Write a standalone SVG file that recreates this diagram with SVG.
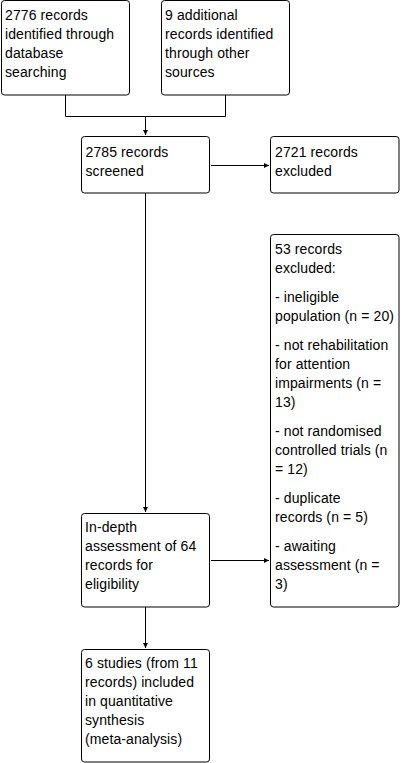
<svg xmlns="http://www.w3.org/2000/svg" width="402" height="763" viewBox="0 0 402 763">
<style>
rect.box{fill:#fff;stroke:#000;stroke-width:1}
text{font-family:"Liberation Sans",Arial,sans-serif;font-size:14px;letter-spacing:0.1px;fill:#000}
.c{fill:none;stroke:#000;stroke-width:1}
</style>
<defs>
<marker id="ah" markerWidth="6" markerHeight="6" refX="5" refY="3" orient="auto" markerUnits="userSpaceOnUse">
<path d="M0,0.5 L5,3 L0,5.5 Z" fill="#000"/>
</marker>
</defs>
<rect width="402" height="763" fill="#fff"/>
<g id="connectors">
<path class="c" d="M65.5,95 V116.5 H225.5 V95"/>
<path class="c" d="M145.5,116.5 V135" marker-end="url(#ah)"/>
<path class="c" d="M211,165.5 H269" marker-end="url(#ah)"/>
<path class="c" d="M145.5,193 V512" marker-end="url(#ah)"/>
<path class="c" d="M211,560.5 H269" marker-end="url(#ah)"/>
<path class="c" d="M145.5,607 V648" marker-end="url(#ah)"/>
</g>
<g id="n1">
<rect class="box" x="1.5" y="0.5" width="128" height="94.5" rx="3"/>
<text x="5" y="20">2776 records</text>
<text x="5" y="39">identified through</text>
<text x="5" y="58">database</text>
<text x="5" y="77">searching</text>
</g>
<g id="n2">
<rect class="box" x="161.5" y="0.5" width="128" height="94.5" rx="3"/>
<text x="165" y="20">9 additional</text>
<text x="165" y="39">records identified</text>
<text x="165" y="58">through other</text>
<text x="165" y="77">sources</text>
</g>
<g id="n3">
<rect class="box" x="81.5" y="136.5" width="128" height="56.5" rx="3"/>
<text x="85.5" y="157">2785 records</text>
<text x="85.5" y="176">screened</text>
</g>
<g id="n4">
<rect class="box" x="270.5" y="136.5" width="128.5" height="56.5" rx="3"/>
<text x="275" y="157">2721 records</text>
<text x="275" y="176">excluded</text>
</g>
<g id="n5">
<rect class="box" x="270.5" y="234.5" width="128.5" height="372.5" rx="3"/>
<text x="275" y="254">53 records</text>
<text x="275" y="273">excluded:</text>
<text x="275" y="302">- ineligible</text>
<text x="275" y="321">population (n = 20)</text>
<text x="275" y="350">- not rehabilitation</text>
<text x="275" y="369">for attention</text>
<text x="275" y="388">impairments (n =</text>
<text x="275" y="407">13)</text>
<text x="275" y="436">- not randomised</text>
<text x="275" y="455">controlled trials (n</text>
<text x="275" y="474">= 12)</text>
<text x="275" y="503">- duplicate</text>
<text x="275" y="522">records (n = 5)</text>
<text x="275" y="551">- awaiting</text>
<text x="275" y="570">assessment (n =</text>
<text x="275" y="589">3)</text>
</g>
<g id="n6">
<rect class="box" x="81.5" y="513.5" width="128" height="93.5" rx="3"/>
<text x="85" y="532">In-depth</text>
<text x="85" y="551">assessment of 64</text>
<text x="85" y="570">records for</text>
<text x="85" y="589">eligibility</text>
</g>
<g id="n7">
<rect class="box" x="81.5" y="649.5" width="128" height="112.5" rx="3"/>
<text x="85" y="668">6 studies (from 11</text>
<text x="85" y="687">records) included</text>
<text x="85" y="706">in quantitative</text>
<text x="85" y="725">synthesis</text>
<text x="85" y="744">(meta-analysis)</text>
</g>
</svg>
